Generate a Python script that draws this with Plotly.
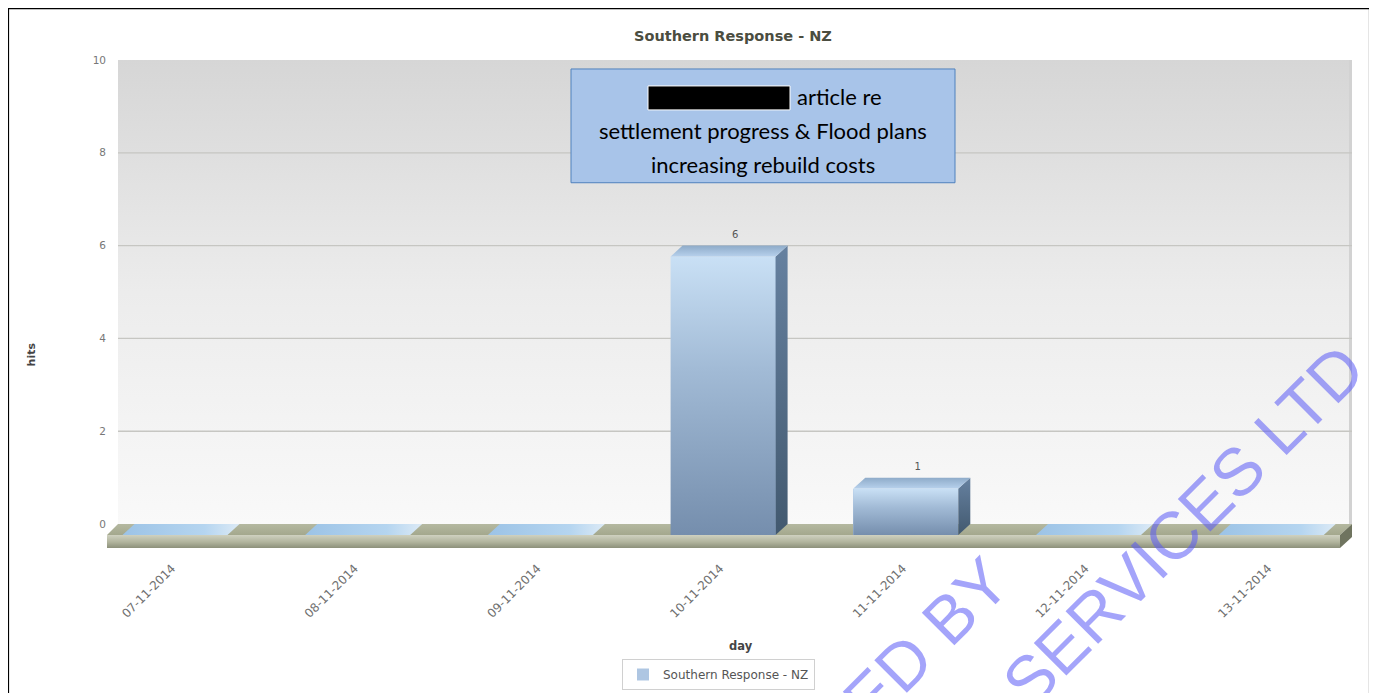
import plotly.graph_objects as go

# ---------------- data ----------------
days = ["07-11-2014", "08-11-2014", "09-11-2014", "10-11-2014",
        "11-11-2014", "12-11-2014", "13-11-2014"]
hits = [0, 0, 0, 6, 1, 0, 0]
y_ticks = [0, 2, 4, 6, 8, 10]
series_name = "Southern Response - NZ"
chart_title = "Southern Response - NZ"
x_title = "day"
y_title = "hits"
note_first = "article re"
note_lines = ["settlement progress & Flood plans", "increasing rebuild costs"]
watermark = ["RELEASED BY", "SERVICES LTD"]

# ---------------- geometry ----------------
OFF = 8              # page body margin
W, H = 1377, 693
L, R, T, B = 99, 33, 52, 152
PW, PH = W - L - R, H - T - B


def fx(px):
    return (px - OFF - L) / PW


def fy(py):
    return (H - B - (py - OFF)) / PH


XPX = 182.7          # pixels per category
YPX = 46.5           # pixels per hit
x0 = -80 / XPX
x1 = x0 + PW / XPX
y0 = -24 / YPX
y1 = 10
DX = 12 / XPX        # 3D depth offsets
DY = 11 / YPX
BW = 105 / XPX       # bar width
WALL_L = x0 + 11 / XPX

FONT = "DejaVu Sans"

fig = go.Figure()

# back wall
fig.add_trace(go.Scatter(
    x=[WALL_L, x1, x1, WALL_L, WALL_L], y=[0, 0, y1, y1, 0],
    fill="toself", mode="lines", line=dict(width=0),
    fillgradient=dict(type="vertical",
                      colorscale=[[0, "#f9f9f9"], [0.5, "#ececec"], [1, "#d6d6d6"]]),
    hoverinfo="skip", showlegend=False, xaxis="x", yaxis="y"))
# right wall edge
fig.add_trace(go.Scatter(
    x=[x1 - 1.5 / XPX, x1 - 1.5 / XPX], y=[0, y1], mode="lines",
    line=dict(color="#d2d2d2", width=3), hoverinfo="skip", showlegend=False))
# gridlines
for t in y_ticks[1:-1]:
    fig.add_trace(go.Scatter(
        x=[WALL_L, x1], y=[t, t], mode="lines",
        line=dict(color="#c6c6c2", width=1.3), hoverinfo="skip", showlegend=False))

# floor: top, front, side
fig.add_trace(go.Scatter(
    x=[x0, x1 - DX, x1, WALL_L, x0], y=[-DY, -DY, 0, 0, -DY],
    fill="toself", mode="lines", line=dict(width=0),
    fillgradient=dict(type="vertical", colorscale=[[0, "#a4a88d"], [1, "#b4b8a0"]]),
    hoverinfo="skip", showlegend=False))
fig.add_trace(go.Scatter(
    x=[x0, x1 - DX, x1 - DX, x0, x0], y=[-DY, -DY, y0, y0, -DY],
    fill="toself", mode="lines", line=dict(width=0),
    fillgradient=dict(type="vertical",
                      colorscale=[[0, "#8c907a"], [0.45, "#b0b39c"], [1, "#cfd1c0"]]),
    hoverinfo="skip", showlegend=False))
fig.add_trace(go.Scatter(
    x=[x1 - DX, x1, x1, x1 - DX, x1 - DX], y=[-DY, 0, y0 + DY, y0, -DY],
    fill="toself", mode="lines", line=dict(width=0), fillcolor="#6f745f",
    hoverinfo="skip", showlegend=False))

# ---------------- bars (overlay axes) ----------------
fig.add_trace(go.Bar(
    x=[i - DX for i in range(len(days))], y=hits, base=-DY, width=BW,
    marker=dict(color="#aec6e2", line=dict(width=0)),
    name=series_name, xaxis="x2", yaxis="y2", hoverinfo="skip", showlegend=True))

for i, v in enumerate(hits):
    fl, fr = i - DX - BW / 2, i - DX + BW / 2
    fb, ft = -DY, v - DY
    if v > 0:
        fig.add_trace(go.Scatter(
            x=[fl, fr, fr, fl, fl], y=[fb, fb, ft, ft, fb],
            fill="toself", mode="lines", line=dict(width=0),
            fillgradient=dict(type="vertical",
                              colorscale=[[0, "#758ead"], [0.6, "#a2bbd6"], [1, "#c9e0f5"]]),
            hoverinfo="skip", showlegend=False, xaxis="x2", yaxis="y2"))
        fig.add_trace(go.Scatter(
            x=[fr, fr + DX, fr + DX, fr, fr], y=[fb, 0, v, ft, fb],
            fill="toself", mode="lines", line=dict(width=0),
            fillgradient=dict(type="vertical",
                              colorscale=[[0, "#42596f"], [1, "#6681a0"]]),
            hoverinfo="skip", showlegend=False, xaxis="x2", yaxis="y2"))
        fig.add_trace(go.Scatter(
            x=[fl, fr, fr + DX, fl + DX, fl], y=[ft, ft, v, v, ft],
            fill="toself", mode="lines", line=dict(width=0),
            fillgradient=dict(type="vertical",
                              colorscale=[[0, "#b7d1ec"], [1, "#8eabc9"]]),
            hoverinfo="skip", showlegend=False, xaxis="x2", yaxis="y2"))
    else:
        fig.add_trace(go.Scatter(
            x=[fl, fr, fr + DX, fl + DX, fl], y=[ft, ft, v, v, ft],
            fill="toself", mode="lines", line=dict(width=0),
            fillgradient=dict(type="horizontal",
                              colorscale=[[0, "#9cc3e6"], [0.7, "#b5d5f0"], [1, "#dceaf6"]]),
            hoverinfo="skip", showlegend=False, xaxis="x2", yaxis="y2"))

# value labels
lab_x = [i for i, v in enumerate(hits) if v > 0]
lab_y = [v for v in hits if v > 0]
fig.add_trace(go.Scatter(
    x=lab_x, y=[v + 5 / YPX for v in lab_y], mode="text", text=[str(v) for v in lab_y],
    textposition="top center", textfont=dict(family=FONT, size=10, color="#555555"),
    hoverinfo="skip", showlegend=False, xaxis="x2", yaxis="y2"))

# ---------------- layout ----------------
shapes = []
for (a, b, c, d) in [(7, 8, 1370, 8), (8, 7, 8, 710), (1370, 7, 1370, 710)]:
    shapes.append(dict(type="line", xref="paper", yref="paper",
                       x0=fx(a), y0=fy(b), x1=fx(c), y1=fy(d),
                       line=dict(color="black", width=2.2), layer="above"))
shapes.append(dict(type="rect", xref="paper", yref="paper",
                   x0=fx(571), y0=fy(69), x1=fx(955), y1=fy(183),
                   fillcolor="#a8c4e9", line=dict(color="#4f81bd", width=1), layer="above"))
shapes.append(dict(type="rect", xref="paper", yref="paper",
                   x0=fx(648), y0=fy(86), x1=fx(790), y1=fy(110),
                   fillcolor="black", line=dict(color="white", width=1), layer="above"))


def ann(text, px, py, font, angle=0, xanchor="center"):
    return dict(text=text, x=fx(px), y=fy(py), xref="paper", yref="paper",
                xanchor=xanchor, yanchor="middle", showarrow=False,
                textangle=angle, font=font)


annotations = [
    ann(f"<b>{chart_title}</b>", 733, 36, dict(family=FONT, size=14.5, color="#4b4d40")),
    ann(f"<b>{y_title}</b>", 31, 355, dict(family=FONT, size=11, color="#444444"), angle=-90),
    ann(f"<b>{x_title}</b>", 741, 647, dict(family=FONT, size=11.5, color="#444444")),
    ann(note_first, 795, 97, dict(family="Lato", size=22, color="black"), xanchor="left"),
]
for k, line in enumerate(note_lines):
    annotations.append(ann(line, 763, 131 + 34 * k, dict(family="Lato", size=22, color="black")))
for txt, (cx, cy) in zip(watermark, [(832, 736), (1183, 526)]):
    annotations.append(ann(txt, cx, cy,
                           dict(family="Liberation Sans", size=67, color="rgba(90,90,245,0.55)"),
                           angle=-45))

fig.update_layout(
    width=W, height=H,
    margin=dict(l=L, r=R, t=T, b=B),
    paper_bgcolor="white", plot_bgcolor="white",
    showlegend=True,
    legend=dict(x=fx(622), y=fy(659), xanchor="left", yanchor="top",
                bgcolor="white", bordercolor="#d0d0d0", borderwidth=1,
                font=dict(family=FONT, size=12, color="#555555")),
    xaxis=dict(range=[x0, x1], tickvals=[i - DX - 3 / XPX for i in range(len(days))],
               ticktext=days, tickangle=-45, showgrid=False, zeroline=False,
               showline=False, ticks="", ticklabelstandoff=10,
               tickfont=dict(family=FONT, size=12, color="#707070")),
    yaxis=dict(range=[y0, y1], tickvals=y_ticks, showgrid=False, zeroline=False,
               showline=False, ticks="", tickfont=dict(family=FONT, size=10.5, color="#777777")),
    xaxis2=dict(range=[x0, x1], overlaying="x", visible=False),
    yaxis2=dict(range=[y0, y1], overlaying="y", visible=False),
    shapes=shapes,
    annotations=annotations,
    bargap=0,
)

fig.write_html("out.html")
